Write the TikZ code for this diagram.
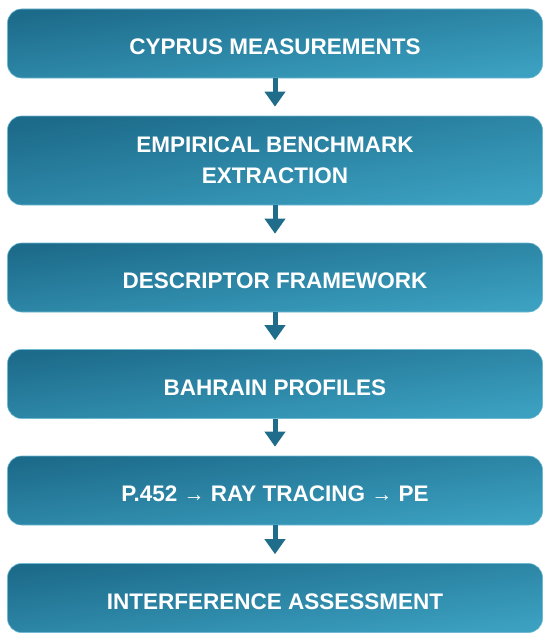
\documentclass[tikz,border=0pt]{standalone}
\usepackage{fontspec}
\setmainfont{Liberation Sans}
\usetikzlibrary{arrows.meta}
\usetikzlibrary{positioning}

\definecolor{stepdark}{HTML}{1D6B8B}
\definecolor{steplight}{HTML}{3CA1C1}
\definecolor{stepedge}{HTML}{6DB9D2}
\definecolor{arrowblue}{HTML}{1F6D8A}

\newcommand{\smallarrow}{{\fontsize{21}{21}\selectfont →}}

\begin{document}
\begin{tikzpicture}[x=1pt, y=-1pt,
    stepbase/.style={rectangle, rounded corners=14pt, minimum width=535pt,
        minimum height=69pt, top color=stepdark, bottom color=steplight,
        shading angle=7.5, draw=stepedge, line width=0.6pt,
        text=white, font=\fontsize{22.5}{31.5}\selectfont\bfseries,
        align=center, inner sep=0pt},
    stepbox/.style={stepbase, text height=22pt, text depth=0pt},
    flow/.style={draw=arrowblue, line width=5pt,
        -{Triangle[width=20pt, length=15pt]}, shorten >=9pt}]
            \useasboundingbox (0,0) rectangle (550,642);

            % Steps
            \node[stepbox] (cyprus) at (275,43.5) {CYPRUS MEASUREMENTS};
            \node[stepbase, minimum height=89pt, shading angle=9.5] (bench) at (275,160.5) {EMPIRICAL BENCHMARK\\EXTRACTION};
            \node[stepbox] (desc) at (275,277.5) {DESCRIPTOR FRAMEWORK};
            \node[stepbox] (bahrain) at (275,384) {BAHRAIN PROFILES};
            \node[stepbox] (models) at (275,490.5) {P.452 \smallarrow\ RAY TRACING \smallarrow\ PE};
            \node[stepbox] (interf) at (275,598) {INTERFERENCE ASSESSMENT};

            % Arrows
            \draw[flow] (cyprus) -- (bench);
            \draw[flow] (bench) -- (desc);
            \draw[flow] (desc) -- (bahrain);
            \draw[flow] (bahrain) -- (models);
            \draw[flow] (models) -- (interf);

        \end{tikzpicture}
\end{document}
